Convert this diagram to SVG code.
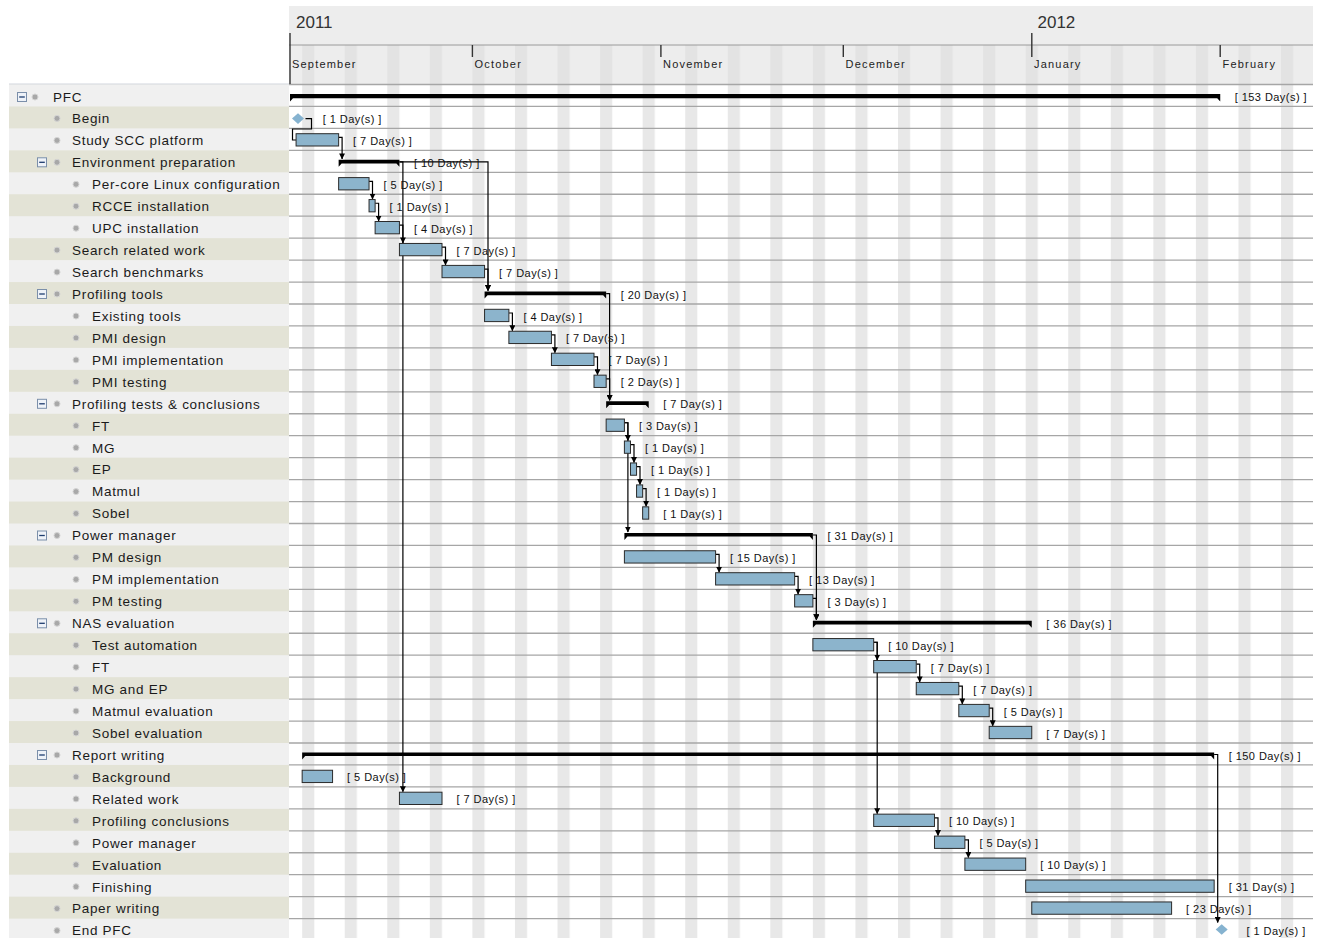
<svg xmlns="http://www.w3.org/2000/svg" xmlns:xlink="http://www.w3.org/1999/xlink" width="1320" height="938" viewBox="0 0 1320 938">
<style>
text{font-family:"Liberation Sans",Arial,sans-serif}
.lbl{font-size:13.5px;letter-spacing:.7px;fill:#1a1a1a}
.dur{font-size:11px;letter-spacing:.45px;fill:#111}
.mon{font-size:11px;letter-spacing:1.2px;fill:#222}
.yr{font-size:17px;fill:#333}
.bar{fill:#8cb4cc;stroke:#2b2b2b;stroke-width:1}
.sum{fill:#000}
.ms{fill:#86b3d0}
.cn{fill:none;stroke:#000;stroke-width:1.2}
.tick{stroke:#333;stroke-width:1.4}
</style>
<defs>
<pattern id="wk" patternUnits="userSpaceOnUse" x="302.16" y="0" width="42.56" height="938"><rect x="0" y="0" width="12.16" height="938" fill="#e8e8e8"/></pattern>
<pattern id="wkh" patternUnits="userSpaceOnUse" x="302.16" y="0" width="42.56" height="938"><rect x="0" y="0" width="12.16" height="938" fill="#e3e3e3"/></pattern>
<pattern id="bands" patternUnits="userSpaceOnUse" x="0" y="84.5" width="10" height="43.9"><rect x="0" y="0" width="10" height="21.95" fill="#f0f0f0"/><rect x="0" y="21.95" width="10" height="21.95" fill="#e3e3d6"/></pattern>
<marker id="ar" viewBox="0 0 6 6" markerWidth="6" markerHeight="6" refX="5.5" refY="3" orient="auto" markerUnits="userSpaceOnUse"><path d="M0,0L6,3L0,6z" fill="#000"/></marker>
<g id="mbox"><rect x="-4.5" y="-4.5" width="9" height="9" fill="#eef2f8" stroke="#7b8faa" stroke-width="1"/><path d="M-2.8 0H2.8" stroke="#1d3c6e" stroke-width="1.3"/></g>
<circle id="dot" r="3" fill="#a8a8a8" stroke="#d4d4d4" stroke-width="1"/>
</defs>

<!-- backgrounds -->
<g id="background">
<rect x="0" y="0" width="1320" height="938" fill="#fff"/>
<rect x="9" y="84.5" width="280" height="854" fill="url(#bands)"/>
<path d="M9 84H289" stroke="#d0d4dc" stroke-width="1"/>
<rect x="289" y="6" width="1024" height="78.5" fill="#ededed"/>
<rect x="289" y="45" width="1024" height="39.5" fill="url(#wkh)"/>
<rect x="289" y="84.5" width="1024" height="854" fill="url(#wk)"/>
<path d="M289 45H1313" stroke="#9a9a9a" stroke-width="1"/>
<path stroke="#a6a6a6" stroke-width="1.3" d="M289 84.5H1313M289 106.45H1313M289 128.4H1313M289 150.35H1313M289 172.3H1313M289 194.25H1313M289 216.2H1313M289 238.15H1313M289 260.1H1313M289 282.05H1313M289 304H1313M289 325.95H1313M289 347.9H1313M289 369.85H1313M289 391.8H1313M289 413.75H1313M289 435.7H1313M289 457.65H1313M289 479.6H1313M289 501.55H1313M289 523.5H1313M289 545.45H1313M289 567.4H1313M289 589.35H1313M289 611.3H1313M289 633.25H1313M289 655.2H1313M289 677.15H1313M289 699.1H1313M289 721.05H1313M289 743H1313M289 764.95H1313M289 786.9H1313M289 808.85H1313M289 830.8H1313M289 852.75H1313M289 874.7H1313M289 896.65H1313M289 918.6H1313"/>
</g>

<!-- timeline header -->
<g id="timescale">
<text class="yr" x="296" y="27.5">2011</text>
<text class="yr" x="1037.5" y="27.5">2012</text>
<path class="tick" d="M290 33V84M1031.8 33V57M472.4 45V57M660.9 45V57M843.3 45V57M1220.2 45V57"/>
<text class="mon" x="292" y="67.5">September</text>
<text class="mon" x="474.5" y="67.5">October</text>
<text class="mon" x="663" y="67.5">November</text>
<text class="mon" x="845.5" y="67.5">December</text>
<text class="mon" x="1034" y="67.5">January</text>
<text class="mon" x="1222.5" y="67.5">February</text>
</g>

<!-- connectors -->
<g id="connectors">
<path class="cn" d="M305.5 118.6H311.5V129H292.5V140H296"/>
<path class="cn" marker-end="url(#ar)" d="M338.64 137.4H342.1V158.9"/>
<path class="cn" marker-end="url(#ar)" d="M369.04 181.3H372.5V199"/>
<path class="cn" marker-end="url(#ar)" d="M375.12 203.25H378.6V221"/>
<path class="cn" marker-end="url(#ar)" d="M399.44 225.2H402.9V242.9"/>
<path class="cn" marker-end="url(#ar)" d="M442 247.15H445.5V264.9"/>
<path class="cn" marker-end="url(#ar)" d="M484.56 269.1H488V290.6"/>
<path class="cn" marker-end="url(#ar)" d="M399.44 161.85H488V290.6"/>
<path class="cn" marker-end="url(#ar)" d="M399.44 161.85H402.9V791.7"/>
<path class="cn" marker-end="url(#ar)" d="M508.88 313H512.4V330.75"/>
<path class="cn" marker-end="url(#ar)" d="M551.44 334.95H554.9V352.7"/>
<path class="cn" marker-end="url(#ar)" d="M594 356.9H597.5V374.65"/>
<path class="cn" marker-end="url(#ar)" d="M606.16 378.85H609.6V400.3"/>
<path class="cn" marker-end="url(#ar)" d="M606.16 293.55H609.6V400.3"/>
<path class="cn" marker-end="url(#ar)" d="M624.4 422.75H627.9V440.5"/>
<path class="cn" marker-end="url(#ar)" d="M630.48 444.7H634V462.45"/>
<path class="cn" marker-end="url(#ar)" d="M636.56 466.65H640V484.4"/>
<path class="cn" marker-end="url(#ar)" d="M642.64 488.6H646.1V506.35"/>
<path class="cn" marker-end="url(#ar)" d="M624.4 422.75H627.9V532"/>
<path class="cn" marker-end="url(#ar)" d="M715.6 554.45H719.1V572.2"/>
<path class="cn" marker-end="url(#ar)" d="M794.64 576.4H798.1V594.15"/>
<path class="cn" marker-end="url(#ar)" d="M812.88 598.35H816.4V619.8"/>
<path class="cn" marker-end="url(#ar)" d="M812.88 535H816.4V619.8"/>
<path class="cn" marker-end="url(#ar)" d="M873.68 642.25H877.2V660"/>
<path class="cn" marker-end="url(#ar)" d="M873.68 642.25H877.2V813.65"/>
<path class="cn" marker-end="url(#ar)" d="M916.24 664.2H919.7V681.95"/>
<path class="cn" marker-end="url(#ar)" d="M958.8 686.15H962.3V703.9"/>
<path class="cn" marker-end="url(#ar)" d="M989.2 708.1H992.7V725.85"/>
<path class="cn" marker-end="url(#ar)" d="M934.48 817.85H938V835.6"/>
<path class="cn" marker-end="url(#ar)" d="M964.88 839.8H968.4V857.55"/>
<path class="cn" marker-end="url(#ar)" d="M1214.16 754.5H1217.7V922.5"/>
</g>

<!-- nodes -->
<g id="n0"><use href="#mbox" x="22" y="97"/><use href="#dot" x="35" y="97"/><text class="lbl" x="53" y="102">PFC</text>
<path class="sum" d="M290 94H1220.24V101.5L1217.24 98.3H293L290 101.5Z"/><text class="dur" x="1234.7" y="101">[ 153 Day(s) ]</text></g>
<g id="n1"><use href="#dot" x="57" y="118.4"/><text class="lbl" x="72" y="123.2">Begin</text>
<polygon class="ms" points="298,113.3 304,118.6 298,123.9 292,118.6"/><text class="dur" x="322.7" y="122.9">[ 1 Day(s) ]</text></g>
<g id="n2"><use href="#dot" x="57" y="140.4"/><text class="lbl" x="72" y="145.2">Study SCC platform</text>
<rect class="bar" x="296.08" y="133.7" width="42.56" height="12.3"/><text class="dur" x="353.1" y="144.9">[ 7 Day(s) ]</text></g>
<g id="n3"><use href="#mbox" x="42" y="162.3"/><use href="#dot" x="57" y="162.3"/><text class="lbl" x="72" y="167.1">Environment preparation</text>
<path class="sum" d="M338.64 159.85H399.44V166.85L396.44 163.45H341.64L338.64 166.85Z"/><text class="dur" x="413.9" y="166.8">[ 10 Day(s) ]</text></g>
<g id="n4"><use href="#dot" x="76" y="184.3"/><text class="lbl" x="92" y="189.1">Per-core Linux configuration</text>
<rect class="bar" x="338.64" y="177.6" width="30.4" height="12.3"/><text class="dur" x="383.5" y="188.8">[ 5 Day(s) ]</text></g>
<g id="n5"><use href="#dot" x="76" y="206.2"/><text class="lbl" x="92" y="211">RCCE installation</text>
<rect class="bar" x="369.04" y="199.55" width="6.08" height="12.3"/><text class="dur" x="389.6" y="210.7">[ 1 Day(s) ]</text></g>
<g id="n6"><use href="#dot" x="76" y="228.2"/><text class="lbl" x="92" y="233">UPC installation</text>
<rect class="bar" x="375.12" y="221.5" width="24.32" height="12.3"/><text class="dur" x="413.9" y="232.7">[ 4 Day(s) ]</text></g>
<g id="n7"><use href="#dot" x="57" y="250.1"/><text class="lbl" x="72" y="254.9">Search related work</text>
<rect class="bar" x="399.44" y="243.45" width="42.56" height="12.3"/><text class="dur" x="456.5" y="254.6">[ 7 Day(s) ]</text></g>
<g id="n8"><use href="#dot" x="57" y="272.1"/><text class="lbl" x="72" y="276.9">Search benchmarks</text>
<rect class="bar" x="442" y="265.4" width="42.56" height="12.3"/><text class="dur" x="499.1" y="276.6">[ 7 Day(s) ]</text></g>
<g id="n9"><use href="#mbox" x="42" y="294"/><use href="#dot" x="57" y="294"/><text class="lbl" x="72" y="298.8">Profiling tools</text>
<path class="sum" d="M484.56 291.55H606.16V298.55L603.16 295.15H487.56L484.56 298.55Z"/><text class="dur" x="620.7" y="298.5">[ 20 Day(s) ]</text></g>
<g id="n10"><use href="#dot" x="76" y="316"/><text class="lbl" x="92" y="320.8">Existing tools</text>
<rect class="bar" x="484.56" y="309.3" width="24.32" height="12.3"/><text class="dur" x="523.4" y="320.5">[ 4 Day(s) ]</text></g>
<g id="n11"><use href="#dot" x="76" y="337.9"/><text class="lbl" x="92" y="342.7">PMI design</text>
<rect class="bar" x="508.88" y="331.25" width="42.56" height="12.3"/><text class="dur" x="565.9" y="342.4">[ 7 Day(s) ]</text></g>
<g id="n12"><use href="#dot" x="76" y="359.9"/><text class="lbl" x="92" y="364.7">PMI implementation</text>
<rect class="bar" x="551.44" y="353.2" width="42.56" height="12.3"/><text class="dur" x="608.5" y="364.4">[ 7 Day(s) ]</text></g>
<g id="n13"><use href="#dot" x="76" y="381.8"/><text class="lbl" x="92" y="386.6">PMI testing</text>
<rect class="bar" x="594" y="375.15" width="12.16" height="12.3"/><text class="dur" x="620.7" y="386.3">[ 2 Day(s) ]</text></g>
<g id="n14"><use href="#mbox" x="42" y="403.8"/><use href="#dot" x="57" y="403.8"/><text class="lbl" x="72" y="408.6">Profiling tests &amp; conclusions</text>
<path class="sum" d="M606.16 401.3H648.72V408.3L645.72 404.9H609.16L606.16 408.3Z"/><text class="dur" x="663.2" y="408.3">[ 7 Day(s) ]</text></g>
<g id="n15"><use href="#dot" x="76" y="425.7"/><text class="lbl" x="92" y="430.5">FT</text>
<rect class="bar" x="606.16" y="419.05" width="18.24" height="12.3"/><text class="dur" x="638.9" y="430.2">[ 3 Day(s) ]</text></g>
<g id="n16"><use href="#dot" x="76" y="447.7"/><text class="lbl" x="92" y="452.5">MG</text>
<rect class="bar" x="624.4" y="441" width="6.08" height="12.3"/><text class="dur" x="645" y="452.2">[ 1 Day(s) ]</text></g>
<g id="n17"><use href="#dot" x="76" y="469.6"/><text class="lbl" x="92" y="474.4">EP</text>
<rect class="bar" x="630.48" y="462.95" width="6.08" height="12.3"/><text class="dur" x="651.1" y="474.1">[ 1 Day(s) ]</text></g>
<g id="n18"><use href="#dot" x="76" y="491.6"/><text class="lbl" x="92" y="496.4">Matmul</text>
<rect class="bar" x="636.56" y="484.9" width="6.08" height="12.3"/><text class="dur" x="657.1" y="496.1">[ 1 Day(s) ]</text></g>
<g id="n19"><use href="#dot" x="76" y="513.5"/><text class="lbl" x="92" y="518.3">Sobel</text>
<rect class="bar" x="642.64" y="506.85" width="6.08" height="12.3"/><text class="dur" x="663.2" y="518">[ 1 Day(s) ]</text></g>
<g id="n20"><use href="#mbox" x="42" y="535.5"/><use href="#dot" x="57" y="535.5"/><text class="lbl" x="72" y="540.3">Power manager</text>
<path class="sum" d="M624.4 533H812.88V540L809.88 536.6H627.4L624.4 540Z"/><text class="dur" x="827.4" y="540">[ 31 Day(s) ]</text></g>
<g id="n21"><use href="#dot" x="76" y="557.4"/><text class="lbl" x="92" y="562.2">PM design</text>
<rect class="bar" x="624.4" y="550.75" width="91.2" height="12.3"/><text class="dur" x="730.1" y="561.9">[ 15 Day(s) ]</text></g>
<g id="n22"><use href="#dot" x="76" y="579.4"/><text class="lbl" x="92" y="584.2">PM implementation</text>
<rect class="bar" x="715.6" y="572.7" width="79.04" height="12.3"/><text class="dur" x="809.1" y="583.9">[ 13 Day(s) ]</text></g>
<g id="n23"><use href="#dot" x="76" y="601.3"/><text class="lbl" x="92" y="606.1">PM testing</text>
<rect class="bar" x="794.64" y="594.65" width="18.24" height="12.3"/><text class="dur" x="827.4" y="605.8">[ 3 Day(s) ]</text></g>
<g id="n24"><use href="#mbox" x="42" y="623.3"/><use href="#dot" x="57" y="623.3"/><text class="lbl" x="72" y="628.1">NAS evaluation</text>
<path class="sum" d="M812.88 620.8H1031.76V627.8L1028.76 624.4H815.88L812.88 627.8Z"/><text class="dur" x="1046.3" y="627.8">[ 36 Day(s) ]</text></g>
<g id="n25"><use href="#dot" x="76" y="645.2"/><text class="lbl" x="92" y="650">Test automation</text>
<rect class="bar" x="812.88" y="638.55" width="60.8" height="12.3"/><text class="dur" x="888.2" y="649.7">[ 10 Day(s) ]</text></g>
<g id="n26"><use href="#dot" x="76" y="667.2"/><text class="lbl" x="92" y="672">FT</text>
<rect class="bar" x="873.68" y="660.5" width="42.56" height="12.3"/><text class="dur" x="930.7" y="671.7">[ 7 Day(s) ]</text></g>
<g id="n27"><use href="#dot" x="76" y="689.1"/><text class="lbl" x="92" y="693.9">MG and EP</text>
<rect class="bar" x="916.24" y="682.45" width="42.56" height="12.3"/><text class="dur" x="973.3" y="693.6">[ 7 Day(s) ]</text></g>
<g id="n28"><use href="#dot" x="76" y="711.1"/><text class="lbl" x="92" y="715.9">Matmul evaluation</text>
<rect class="bar" x="958.8" y="704.4" width="30.4" height="12.3"/><text class="dur" x="1003.7" y="715.6">[ 5 Day(s) ]</text></g>
<g id="n29"><use href="#dot" x="76" y="733"/><text class="lbl" x="92" y="737.8">Sobel evaluation</text>
<rect class="bar" x="989.2" y="726.35" width="42.56" height="12.3"/><text class="dur" x="1046.3" y="737.5">[ 7 Day(s) ]</text></g>
<g id="n30"><use href="#mbox" x="42" y="755"/><use href="#dot" x="57" y="755"/><text class="lbl" x="72" y="759.8">Report writing</text>
<path class="sum" d="M302.16 752.5H1214.16V759.5L1211.16 756.1H305.16L302.16 759.5Z"/><text class="dur" x="1228.7" y="759.5">[ 150 Day(s) ]</text></g>
<g id="n31"><use href="#dot" x="76" y="776.9"/><text class="lbl" x="92" y="781.7">Background</text>
<rect class="bar" x="302.16" y="770.25" width="30.4" height="12.3"/><text class="dur" x="347.1" y="781.4">[ 5 Day(s) ]</text></g>
<g id="n32"><use href="#dot" x="76" y="798.9"/><text class="lbl" x="92" y="803.7">Related work</text>
<rect class="bar" x="399.44" y="792.2" width="42.56" height="12.3"/><text class="dur" x="456.5" y="803.4">[ 7 Day(s) ]</text></g>
<g id="n33"><use href="#dot" x="76" y="820.8"/><text class="lbl" x="92" y="825.6">Profiling conclusions</text>
<rect class="bar" x="873.68" y="814.15" width="60.8" height="12.3"/><text class="dur" x="949" y="825.3">[ 10 Day(s) ]</text></g>
<g id="n34"><use href="#dot" x="76" y="842.8"/><text class="lbl" x="92" y="847.6">Power manager</text>
<rect class="bar" x="934.48" y="836.1" width="30.4" height="12.3"/><text class="dur" x="979.4" y="847.3">[ 5 Day(s) ]</text></g>
<g id="n35"><use href="#dot" x="76" y="864.7"/><text class="lbl" x="92" y="869.5">Evaluation</text>
<rect class="bar" x="964.88" y="858.05" width="60.8" height="12.3"/><text class="dur" x="1040.2" y="869.2">[ 10 Day(s) ]</text></g>
<g id="n36"><use href="#dot" x="76" y="886.7"/><text class="lbl" x="92" y="891.5">Finishing</text>
<rect class="bar" x="1025.68" y="880" width="188.48" height="12.3"/><text class="dur" x="1228.7" y="891.2">[ 31 Day(s) ]</text></g>
<g id="n37"><use href="#dot" x="57" y="908.6"/><text class="lbl" x="72" y="913.4">Paper writing</text>
<rect class="bar" x="1031.76" y="901.95" width="139.84" height="12.3"/><text class="dur" x="1186.1" y="913.1">[ 23 Day(s) ]</text></g>
<g id="n38"><use href="#dot" x="57" y="930.6"/><text class="lbl" x="72" y="935.4">End PFC</text>
<polygon class="ms" points="1221.7,924.3 1227.7,929.5 1221.7,934.7 1215.7,929.5"/><text class="dur" x="1246.5" y="935.1">[ 1 Day(s) ]</text></g>
</svg>
